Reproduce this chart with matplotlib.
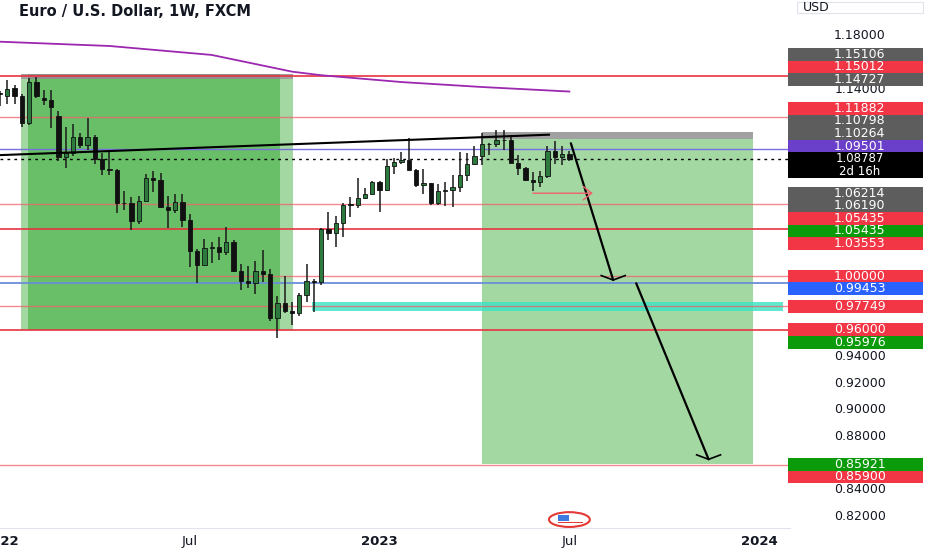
import numpy as np
import matplotlib.pyplot as plt
import matplotlib.transforms as mtransforms
from matplotlib.patches import Rectangle, Ellipse

# EUR/USD weekly candles, index 0 = week of 3 Jan 2022
opens = [1.1370, 1.1345, 1.1405, 1.1345, 1.1145, 1.1450, 1.1330, 1.1315, 1.1200, 1.0890,
         1.0920, 1.1040, 1.0980, 1.1045, 1.0875, 1.0805, 1.0798, 1.0545, 1.0550, 1.0411,
         1.0563, 1.0733, 1.0720, 1.0518, 1.0496, 1.0554, 1.0424, 1.0186, 1.0083, 1.0211,
         1.0220, 1.0180, 1.0258, 1.0036, 0.9963, 0.9952, 1.0040, 1.0015, 0.9688, 0.9802,
         0.9739, 0.9722, 0.9861, 0.9965, 0.9960, 1.0355, 1.0325, 1.0397, 1.0536, 1.0535,
         1.0585, 1.0617, 1.0706, 1.0643, 1.0827, 1.0856, 1.0868, 1.0796, 1.0679, 1.0695,
         1.0546, 1.0636, 1.0643, 1.0671, 1.0760, 1.0839, 1.0903, 1.0991, 1.0989, 1.1017,
         1.1019, 1.0849, 1.0806, 1.0720, 1.0708, 1.0750, 1.0940, 1.0895, 1.0912]
highs = [1.1385, 1.1465, 1.1430, 1.1360, 1.1480, 1.1490, 1.1395, 1.1390, 1.1235, 1.1120,
         1.1137, 1.1068, 1.1185, 1.1055, 1.0925, 1.0936, 1.0805, 1.0641, 1.0593, 1.0599,
         1.0765, 1.0787, 1.0774, 1.0601, 1.0614, 1.0615, 1.0463, 1.0200, 1.0278, 1.0254,
         1.0293, 1.0368, 1.0270, 1.0090, 1.0079, 1.0115, 1.0198, 1.0050, 0.9853, 0.9999,
         0.9809, 0.9876, 1.0094, 0.9976, 1.0364, 1.0481, 1.0450, 1.0545, 1.0594, 1.0737,
         1.0658, 1.0714, 1.0714, 1.0874, 1.0887, 1.0929, 1.1033, 1.0800, 1.0805, 1.0700,
         1.0691, 1.0706, 1.0760, 1.0930, 1.0925, 1.0973, 1.1075, 1.1000, 1.1095, 1.1092,
         1.1054, 1.0905, 1.0820, 1.0779, 1.0787, 1.0971, 1.1012, 1.0976, 1.0935]
lows = [1.1272, 1.1290, 1.1290, 1.1120, 1.1130, 1.1330, 1.1280, 1.1106, 1.0860, 1.0806,
        1.0900, 1.0960, 1.0945, 1.0836, 1.0757, 1.0760, 1.0472, 1.0492, 1.0349, 1.0390,
        1.0559, 1.0627, 1.0513, 1.0358, 1.0470, 1.0366, 1.0072, 0.9952, 1.0080, 1.0095,
        1.0123, 1.0157, 1.0034, 0.9900, 0.9910, 0.9864, 0.9955, 0.9668, 0.9535, 0.9724,
        0.9632, 0.9705, 0.9809, 0.9730, 0.9935, 1.0270, 1.0222, 1.0290, 1.0442, 1.0510,
        1.0575, 1.0612, 1.0483, 1.0640, 1.0766, 1.0836, 1.0795, 1.0669, 1.0613, 1.0533,
        1.0530, 1.0525, 1.0516, 1.0633, 1.0713, 1.0830, 1.0830, 1.0910, 1.0965, 1.0941,
        1.0848, 1.0760, 1.0712, 1.0635, 1.0666, 1.0733, 1.0843, 1.0834, 1.0865]
closes = [1.1360, 1.1400, 1.1345, 1.1145, 1.1450, 1.1345, 1.1320, 1.1270, 1.0890, 1.0920,
          1.1040, 1.0980, 1.1045, 1.0875, 1.0805, 1.0798, 1.0545, 1.0550, 1.0411, 1.0563,
          1.0733, 1.0720, 1.0518, 1.0496, 1.0554, 1.0424, 1.0186, 1.0083, 1.0211, 1.0220,
          1.0180, 1.0258, 1.0036, 0.9963, 0.9952, 1.0040, 1.0015, 0.9688, 0.9802, 0.9739,
          0.9722, 0.9861, 0.9965, 0.9960, 1.0355, 1.0325, 1.0397, 1.0536, 1.0535, 1.0585,
          1.0617, 1.0706, 1.0643, 1.0827, 1.0856, 1.0868, 1.0796, 1.0679, 1.0695, 1.0546,
          1.0636, 1.0643, 1.0671, 1.0760, 1.0839, 1.0903, 1.0991, 1.0989, 1.1017, 1.1019,
          1.0849, 1.0806, 1.0720, 1.0708, 1.0750, 1.0940, 1.0895, 1.0912, 1.0879]

# moving average (purple) read at a few weeks
ma_weeks = [0, 15, 29, 40, 44, 55, 66, 78]
ma_values = [1.1755, 1.1723, 1.1656, 1.1531, 1.1504, 1.1453, 1.1416, 1.1382]

current_price = 1.08787
red_levels = [1.15012, 1.11882, 1.05435, 1.03553, 1.00000, 0.97749, 0.96000, 0.85900]
strong_levels = [1.15012, 1.03553, 0.96000]
purple_level = 1.09501
blue_level = 0.99453
teal_zone = (0.9738, 0.9808, 42.8, 107.3)

# position tools: (start week, end week, stop, entry, target)
short_boxes = [(2.9, 38.3, 1.15106, 1.14727, 0.95976),
               (3.9, 40.2, 1.15106, 1.14727, 0.95976),
               (66.0, 103.2, 1.10798, 1.10264, 0.85921)]

trend_line = ([-5, 75.2], [1.0896, 1.1059])
arrows = [((78.2, 1.0995), (84.0, 0.9971)), ((87.15, 0.9947), (97.07, 0.8629))]
red_arrow = ((73.0, 1.0621), (81.2, 1.0621))

# price-scale tags (value, colour)
tags = [(1.15106, '#5d5d5d'), (1.15012, '#f23645'), (1.14727, '#5d5d5d'),
        (1.11882, '#f23645'), (1.10798, '#5d5d5d'), (1.10264, '#5d5d5d'),
        (1.09501, '#6a3fc9'), (1.06214, '#5d5d5d'), (1.06190, '#5d5d5d'),
        (1.05435, '#f23645'), (1.05435, '#0a9a0a'), (1.03553, '#f23645'),
        (1.00000, '#f23645'), (0.99453, '#2962ff'), (0.97749, '#f23645'),
        (0.96000, '#f23645'), (0.95976, '#0a9a0a'), (0.85921, '#0a9a0a'),
        (0.85900, '#f23645')]
countdown = "2d 16h"

xtick_weeks = [0, 26, 52, 78, 104]
xtick_labels = ["2022", "Jul", "2023", "Jul", "2024"]

W, H = 932, 550
ymin, ymax = 0.81151, 1.20672
xmin, xmax = 0.355, 108.22

fig = plt.figure(figsize=(W / 100, H / 100), dpi=100)
ax = fig.add_axes([0, 22 / H, 790 / W, 528 / H])
ax.set_xlim(xmin, xmax)
ax.set_ylim(ymin, ymax)
for s in ['top', 'left', 'right']:
    ax.spines[s].set_visible(False)
ax.spines['bottom'].set_color('#e0e3eb')
ax.set_yticks([])
ax.set_xticks(xtick_weeks)
ax.set_xticklabels(xtick_labels, fontsize=9.5, color='#131722')
ax.tick_params(axis='x', length=0, pad=5)
for lab in ax.get_xticklabels():
    if lab.get_text().isdigit():
        lab.set_fontweight('bold')

px_week = 790 / (xmax - xmin)
px_price = 528 / (ymax - ymin)

# position boxes
for x0, x1, stop, entry, target in short_boxes:
    ax.add_patch(Rectangle((x0, target), x1 - x0, entry - target,
                           facecolor='#009500', alpha=0.36, lw=0, zorder=1))
    ax.add_patch(Rectangle((x0, entry), x1 - x0, stop - entry,
                           facecolor='#8a8a8a', alpha=0.8, lw=0, zorder=1))

ax.add_patch(Rectangle((teal_zone[2], teal_zone[0]), teal_zone[3] - teal_zone[2],
                       teal_zone[1] - teal_zone[0], facecolor='#38e4c4', alpha=0.8,
                       lw=0, zorder=1.5))

for lvl in red_levels:
    if lvl in strong_levels:
        ax.axhline(lvl, color='#e8333f', lw=1.4, alpha=0.85, zorder=2)
    else:
        ax.axhline(lvl, color='#f0606a', lw=1.0, alpha=0.75, zorder=2)
ax.axhline(purple_level, color='#7a6fe0', lw=1.0, zorder=2)
ax.axhline(blue_level, color='#6a8ed8', lw=1.3, zorder=2)
ax.axhline(current_price, color='black', lw=1.0, ls=(0, (2, 3)), zorder=2)

ax.plot(ma_weeks, ma_values, color='#9c27b0', lw=1.3, zorder=3)

# candles
weeks = np.arange(len(opens))
o = np.array(opens)
c = np.array(closes)
up = c >= o
ax.vlines(weeks, lows, highs, color='#1a1a1a', lw=1.1, zorder=4)
ax.bar(weeks, np.maximum(np.abs(c - o), 0.0004), bottom=np.minimum(o, c), width=0.6,
       color=np.where(up, '#2d7a3e', '#111111'), edgecolor='#111111', linewidth=0.6,
       zorder=5)

ax.plot(trend_line[0], trend_line[1], color='black', lw=1.5, zorder=6)

# projection arrows with flat open heads
for (sx, sy), (ex, ey) in arrows:
    ax.plot([sx, ex], [sy, ey], color='black', lw=1.6, zorder=7,
            solid_capstyle='round')
    arm = 12 / px_week
    rise = 4.5 / px_price
    ax.plot([ex - arm, ex, ex + arm], [ey + rise, ey, ey + rise], color='black',
            lw=1.2, zorder=7)

ax.annotate('', xy=red_arrow[1], xytext=red_arrow[0], zorder=7,
            arrowprops=dict(arrowstyle='->,head_length=0.5,head_width=0.4',
                            lw=1.0, color='#f0606a', mutation_scale=12,
                            shrinkA=0, shrinkB=0))

# economic event icon
btr = mtransforms.blended_transform_factory(ax.transData, ax.transAxes)
ax.add_patch(Ellipse((78, 0.016), 5.6, 0.028, transform=btr, facecolor='white',
                     edgecolor='#e53935', lw=1.5, zorder=8, clip_on=False))
ax.add_patch(Rectangle((76.4, 0.014), 1.6, 0.01, transform=btr, facecolor='#3d7be0',
                       lw=0, zorder=9, clip_on=False))
ax.add_patch(Rectangle((76.4, 0.009), 3.4, 0.003, transform=btr, facecolor='#e53935',
                       lw=0, zorder=9, clip_on=False))

fig.text(19 / W, 1 - 12 / H, "Euro / U.S. Dollar, 1W, FXCM", fontsize=10.5,
         fontweight='bold', color='#131722', va='center', ha='left')

# price scale
pax = fig.add_axes([788 / W, 22 / H, 144 / W, 528 / H])
pax.set_ylim(ymin, ymax)
pax.set_xlim(0, 1)
pax.set_xticks([])
pax.set_yticks([])
for s in pax.spines.values():
    s.set_visible(False)
ptr = mtransforms.blended_transform_factory(pax.transAxes, pax.transData)

h = 12.6 / 528 * (ymax - ymin)
above = sorted([t for t in tags if t[0] > current_price], key=lambda t: t[0])
below = sorted([t for t in tags if t[0] < current_price], key=lambda t: -t[0])
placed = []
prev = current_price
for v, col in above:
    prev = max(v, prev + h)
    placed.append((prev, v, col))
prev = current_price - h
for v, col in below:
    prev = min(v, prev - h)
    placed.append((prev, v, col))

occupied = [p for p, _, _ in placed] + [current_price, current_price - h]
for v in np.arange(0.82, 1.1801, 0.02):
    if min(abs(v - p) for p in occupied) < 0.72 * h:
        continue
    pax.text(0.5, v, f"{v:.5f}", transform=ptr, ha='center', va='center',
             fontsize=9, color='#131722', zorder=2)

box_w = 0.9375
for pos, v, col in placed:
    pax.add_patch(Rectangle((0, pos - h / 2), box_w, h, transform=ptr,
                            facecolor=col, lw=0, zorder=3))
    pax.text(box_w / 2 + 0.03, pos, f"{v:.5f}", transform=ptr, ha='center',
             va='center', fontsize=9, color='white', zorder=4)

pax.add_patch(Rectangle((0, current_price - 1.5 * h), box_w, 2 * h, transform=ptr,
                        facecolor='black', lw=0, zorder=3))
pax.text(box_w / 2 + 0.03, current_price, f"{current_price:.5f}", transform=ptr,
         ha='center', va='center', fontsize=8.5, color='white', zorder=4)
pax.text(box_w / 2 + 0.03, current_price - h, countdown, transform=ptr,
         ha='center', va='center', fontsize=8.5, color='white', zorder=4)

pax.add_patch(Rectangle((0.0625, 0.9754), 0.875, 0.0206, transform=pax.transAxes,
                        facecolor='white', edgecolor='#e0e3eb', lw=0.8, zorder=3))
pax.text(0.104, 0.9857, "USD", transform=pax.transAxes, ha='left', va='center',
         fontsize=9, color='#131722', zorder=4)

fig.savefig("out.png", dpi=100)
